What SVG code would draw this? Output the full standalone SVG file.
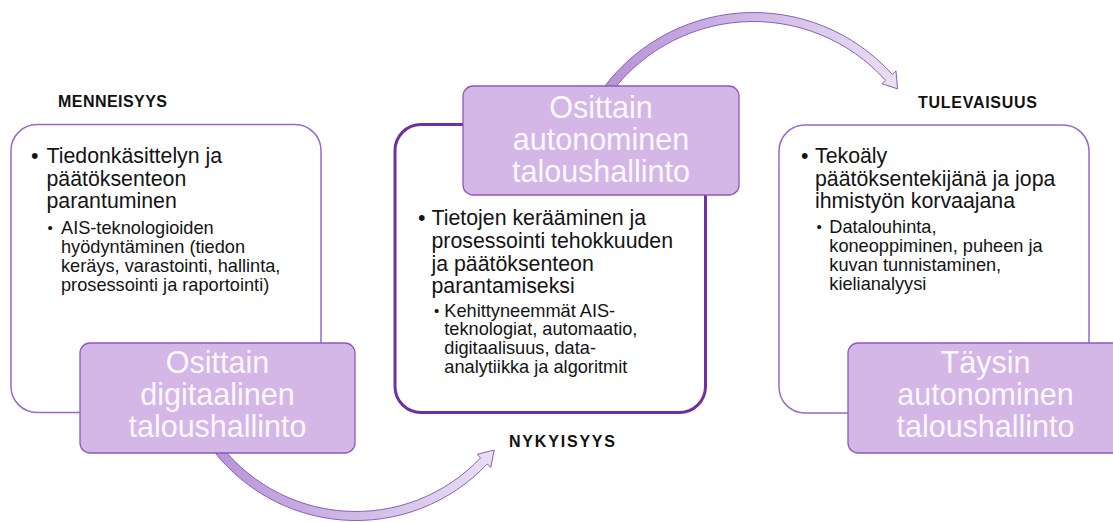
<svg xmlns="http://www.w3.org/2000/svg" width="1113" height="522" viewBox="0 0 1113 522">
<defs>
<linearGradient id="gTop" gradientUnits="userSpaceOnUse" x1="600" y1="60" x2="900" y2="60">
<stop offset="0" stop-color="#B592D6"/>
<stop offset="1" stop-color="#E8E0F3"/>
</linearGradient>
<linearGradient id="gBot" gradientUnits="userSpaceOnUse" x1="205" y1="480" x2="495" y2="480">
<stop offset="0" stop-color="#B592D6"/>
<stop offset="1" stop-color="#E8E0F3"/>
</linearGradient>
<style>
.frame{fill:#FFFFFF;stroke:#9A68C8;stroke-width:1.5}
.frameMain{fill:#FFFFFF;stroke:#7030A0;stroke-width:3}
.tag{fill:#D4B7E7;stroke:#8E57C0;stroke-width:1.3}
.tagText{font-family:"Liberation Sans",Arial,sans-serif;font-size:30.5px;fill:#FBF7FE;text-anchor:middle}
.head{font-family:"Liberation Sans",Arial,sans-serif;font-size:16px;font-weight:bold;fill:#111111}
.l1{font-family:"Liberation Sans",Arial,sans-serif;font-size:21.3px;fill:#141414}
.l2{font-family:"Liberation Sans",Arial,sans-serif;font-size:18.2px;fill:#141414}
.b2{font-family:"Liberation Sans",Arial,sans-serif;font-size:15px;fill:#141414}
.arrow{stroke:#8E5EC0;stroke-width:1}
</style>
</defs>
<g id="connectors">
<path class="arrow" fill="url(#gTop)" d="M598.5,94.9 A186.8,186.8 0 0 1 892.2,74.3 L896.0,70.9 L897.5,88.8 L881.8,83.7 L885.5,80.3 A177.8,177.8 0 0 0 606,99.9 Z"/>
<path class="arrow" fill="url(#gBot)" d="M208.1,443.5 A180.5,180.5 0 0 0 487.2,464.0 L490.8,467.4 L494.2,450.0 L477.0,454.4 L480.6,457.8 A171.5,171.5 0 0 1 215.5,438.4 Z"/>
</g>
<g id="past">
<text class="head" x="58" y="107" textLength="109" lengthAdjust="spacing">MENNEISYYS</text>
<rect class="frame" x="11" y="124.5" width="310" height="288" rx="26"/>
<text class="l1" x="31" y="163.3">•</text>
<text class="l1" x="46.5" y="163.3">Tiedonkäsittelyn ja</text>
<text class="l1" x="46.5" y="186">päätöksenteon</text>
<text class="l1" x="46.5" y="208.3">parantuminen</text>
<text class="b2" x="47.5" y="233">•</text>
<text class="l2" x="61" y="234">AIS-teknologioiden</text>
<text class="l2" x="61" y="253">hyödyntäminen (tiedon</text>
<text class="l2" x="61" y="272">keräys, varastointi, hallinta,</text>
<text class="l2" x="61" y="291">prosessointi ja raportointi)</text>
</g>
<g id="present">
<rect class="frameMain" x="395" y="124.5" width="310.5" height="288" rx="26"/>
<text class="l1" x="418" y="225">•</text>
<text class="l1" x="431.5" y="225">Tietojen kerääminen ja</text>
<text class="l1" x="431.5" y="248">prosessointi tehokkuuden</text>
<text class="l1" x="431.5" y="270.5">ja päätöksenteon</text>
<text class="l1" x="431.5" y="293">parantamiseksi</text>
<text class="b2" x="434" y="315.7">•</text>
<text class="l2" x="444.3" y="316.7">Kehittyneemmät AIS-</text>
<text class="l2" x="444.3" y="335.4">teknologiat, automaatio,</text>
<text class="l2" x="444.3" y="354.1">digitaalisuus, data-</text>
<text class="l2" x="444.3" y="372.8">analytiikka ja algoritmit</text>
<text class="head" x="509" y="447" textLength="106" lengthAdjust="spacing">NYKYISYYS</text>
</g>
<g id="future">
<text class="head" x="918" y="107.5" textLength="119" lengthAdjust="spacing">TULEVAISUUS</text>
<rect class="frame" x="779" y="125" width="310" height="288" rx="26"/>
<text class="l1" x="801" y="163.3">•</text>
<text class="l1" x="815" y="163.3">Tekoäly</text>
<text class="l1" x="815" y="186">päätöksentekijänä ja jopa</text>
<text class="l1" x="815" y="208.3">ihmistyön korvaajana</text>
<text class="b2" x="816.5" y="232.3">•</text>
<text class="l2" x="829.3" y="233.3">Datalouhinta,</text>
<text class="l2" x="829.3" y="252.3">koneoppiminen, puheen ja</text>
<text class="l2" x="829.3" y="271.3">kuvan tunnistaminen,</text>
<text class="l2" x="829.3" y="290.3">kielianalyysi</text>
</g>
<g id="tag-past">
<rect class="tag" x="80" y="343" width="275" height="110" rx="10"/>
<text class="tagText" x="217.5" y="373">Osittain</text>
<text class="tagText" x="217.5" y="405">digitaalinen</text>
<text class="tagText" x="217.5" y="437">taloushallinto</text>
</g>
<g id="tag-present">
<rect class="tag" x="463" y="86" width="276" height="109" rx="10"/>
<text class="tagText" x="601" y="118">Osittain</text>
<text class="tagText" x="601" y="150">autonominen</text>
<text class="tagText" x="601" y="182">taloushallinto</text>
</g>
<g id="tag-future">
<rect class="tag" x="848" y="343" width="275" height="110" rx="10"/>
<text class="tagText" x="985.5" y="373">Täysin</text>
<text class="tagText" x="985.5" y="405">autonominen</text>
<text class="tagText" x="985.5" y="437">taloushallinto</text>
</g>
</svg>
